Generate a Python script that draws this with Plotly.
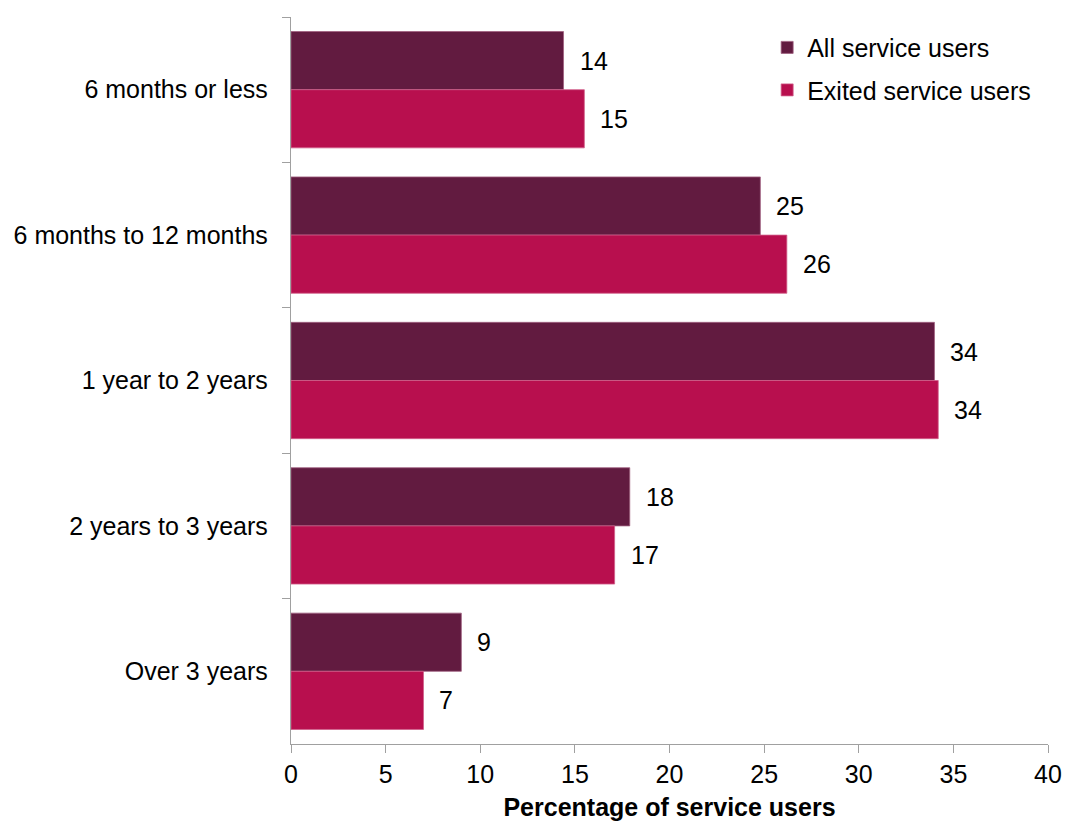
import plotly.graph_objects as go

categories = ["6 months or less", "6 months to 12 months", "1 year to 2 years",
              "2 years to 3 years", "Over 3 years"]
all_users = [14.4, 24.8, 34.0, 17.9, 9.0]
exited_users = [15.5, 26.2, 34.2, 17.1, 7.0]
all_labels = ["14", "25", "34", "18", "9"]
exited_labels = ["15", "26", "34", "17", "7"]
x_ticks = [0, 5, 10, 15, 20, 25, 30, 35, 40]

C_ALL = "#621B40"
C_EXIT = "#B80F4E"
FONT = "Liberation Sans, Arial, sans-serif"
FS = 25

fig = go.Figure()
fig.add_trace(go.Bar(y=categories, x=all_users, orientation="h", name="All service users",
                     marker=dict(color=C_ALL, line=dict(color="#a0607f", width=0.8)),
                     legendgroup="a"))
fig.add_trace(go.Bar(y=categories, x=exited_users, orientation="h", name="Exited service users",
                     marker=dict(color=C_EXIT, line=dict(color="#d0608a", width=0.8)),
                     legendgroup="b"))

annotations = []
for cat, v, lab in zip(categories, all_users, all_labels):
    annotations.append(dict(x=v, y=cat, text=lab, showarrow=False, xanchor="left",
                            xshift=14, yshift=29, font=dict(family=FONT, size=FS, color="black")))
for cat, v, lab in zip(categories, exited_users, exited_labels):
    annotations.append(dict(x=v, y=cat, text=lab, showarrow=False, xanchor="left",
                            xshift=14, yshift=-29, font=dict(family=FONT, size=FS, color="black")))

fig.update_layout(
    width=1065, height=823,
    margin=dict(l=291, r=17, t=17, b=79, autoexpand=False),
    paper_bgcolor="white", plot_bgcolor="white",
    barmode="group", bargap=0.2, bargroupgap=0,
    font=dict(family=FONT, size=FS, color="black"),
    showlegend=True,
    legend=dict(x=0.629, y=0.9895, xanchor="left", yanchor="top",
                font=dict(family=FONT, size=FS, color="black"),
                tracegroupgap=7, traceorder="grouped", bgcolor="rgba(0,0,0,0)"),
    annotations=annotations,
    xaxis=dict(range=[0, 40], tickvals=x_ticks, showgrid=False, zeroline=False,
               showline=True, linecolor="#a0a0a0", linewidth=1.3,
               ticks="outside", ticklen=8, tickcolor="#a0a0a0", tickwidth=1.3,
               tickfont=dict(family=FONT, size=FS, color="black"),
               title=dict(text="<b>Percentage of service users</b>", standoff=11,
                          font=dict(family=FONT, size=FS, color="black"))),
    yaxis=dict(autorange="reversed", showgrid=False, zeroline=False,
               showline=True, linecolor="#a0a0a0", linewidth=1.3,
               ticks="outside", ticklen=8, tickcolor="#a0a0a0", tickwidth=1.3,
               tickson="boundaries", ticklabelstandoff=17,
               tickfont=dict(family=FONT, size=FS, color="black")),
)

fig.write_html(
    "out.html",
    config={"displayModeBar": False},
    post_script=("document.body.style.margin='0';"
                 "document.body.style.overflow='hidden';"
                 "document.documentElement.style.overflow='hidden';"),
)
